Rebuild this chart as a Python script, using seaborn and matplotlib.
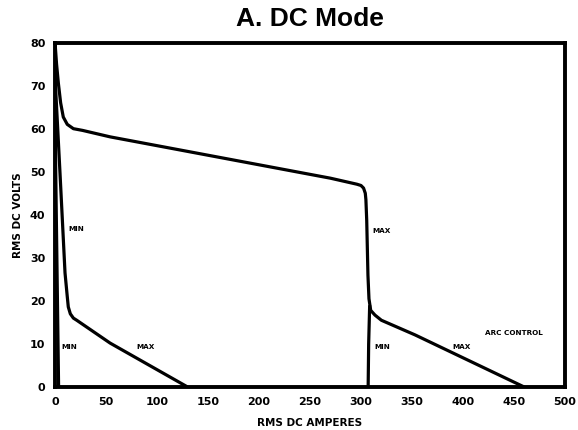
import matplotlib
matplotlib.use("Agg")
import matplotlib.pyplot as plt
import seaborn as sns
import pandas as pd

sns.set_style("white")
plt.rcParams['font.family'] = ['DejaVu Sans']
plt.rcParams['text.color'] = 'black'
plt.rcParams['axes.labelcolor'] = 'black'
plt.rcParams['xtick.color'] = 'black'
plt.rcParams['ytick.color'] = 'black'

# Upper MAX curve (open circuit -> MAX knee -> arc control MAX)
upper_max_amps = [0, 1.5, 3.3, 5.5, 8.1, 12, 18, 27, 54, 270, 296, 300, 302.5, 304.2, 304.8, 305.6, 306.8, 307.8, 309.5, 313.7, 320, 353, 460]
upper_max_volts = [80, 75, 70.5, 66, 62.7, 61, 60, 59.6, 58.1, 48.5, 47.1, 46.8, 46.2, 45, 43.5, 38.7, 26, 20.5, 17.8, 16.7, 15.5, 12.1, 0]

# Right MIN line
right_min_amps = [308.5, 307.5, 307]
right_min_volts = [19, 10, 0]

# Lower-left curve (MIN slope -> knee -> MAX arc control)
left_curve_amps = [0, 4.9, 9.8, 12, 13, 15, 18, 21.3, 54, 130]
left_curve_volts = [72, 49.6, 26.5, 21, 18.6, 17, 16, 15.5, 10.2, 0]

# Left near-vertical MIN line
left_min_amps = [0, 3.5]
left_min_volts = [62, 0]

labels = [
    ("MIN", 12.7, 36.6),
    ("MIN", 6.5, 9.3),
    ("MAX", 80, 9.3),
    ("MAX", 311, 36.2),
    ("MIN", 313.5, 9.3),
    ("MAX", 390, 9.3),
    ("ARC CONTROL", 422, 12.6),
]

fig = plt.figure(figsize=(5.78, 4.30), dpi=100)
ax = fig.add_axes([0.0952, 0.1, 0.8823, 0.801])

series = [
    (upper_max_amps, upper_max_volts),
    (right_min_amps, right_min_volts),
    (left_curve_amps, left_curve_volts),
    (left_min_amps, left_min_volts),
]
for i, (xa, ya) in enumerate(series):
    df = pd.DataFrame({"amps": xa, "volts": ya})
    sns.lineplot(data=df, x="amps", y="volts", sort=False, estimator=None,
                 color="black", linewidth=2.3, ax=ax,
                 solid_joinstyle="round", solid_capstyle="butt")

for txt, x, y in labels:
    ax.text(x, y, txt, fontsize=5.2, fontweight="bold", ha="left", va="center",
            color="black")

ax.set_xlim(0, 500)
ax.set_ylim(0, 80)
ax.set_xticks(range(0, 501, 50))
ax.set_yticks(range(0, 81, 10))
ax.tick_params(axis="both", direction="in", length=3, width=1, labelsize=8, pad=7,
               colors="black")
for lab in ax.get_xticklabels() + ax.get_yticklabels():
    lab.set_fontweight("bold")
for s in ax.spines.values():
    s.set_linewidth(2.8)
    s.set_color("black")

ax.set_xlabel("RMS DC AMPERES", fontsize=7.5, fontweight="bold", labelpad=8,
              color="black")
ax.set_ylabel("RMS DC VOLTS", fontsize=7.5, fontweight="bold", labelpad=5,
              color="black")
ax.set_title("A. DC Mode", fontsize=19, fontweight="bold", color="black",
             family=["Liberation Sans", "DejaVu Sans"], pad=12)

fig.savefig("out.png", dpi=100)
